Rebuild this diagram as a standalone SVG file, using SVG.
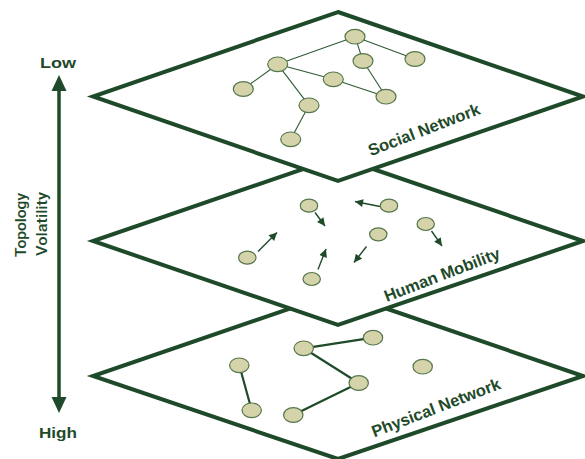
<svg xmlns="http://www.w3.org/2000/svg" width="585" height="459" viewBox="0 0 585 459">
<defs>
<style>
.plane{fill:#ffffff;stroke:#1f4a2a;stroke-width:4;stroke-linejoin:miter}
.nd{fill:#d4d3aa;stroke:#55764a;stroke-width:1.2}
.se{stroke:#2f5a35;stroke-width:1.1;fill:none}
.pe{stroke:#1f4a2a;stroke-width:2.2;fill:none}
.mv{stroke:#1f4a2a;stroke-width:1.4;fill:none;marker-end:url(#ah)}
.lbl{font-family:"Liberation Sans",Arial,sans-serif;font-weight:bold;font-size:16.5px;fill:#1f4a2a}
.ax{font-family:"Liberation Sans",Arial,sans-serif;font-weight:bold;font-size:15px;fill:#1f4a2a}
.axl{font-family:Roboto,"Liberation Sans",Arial,sans-serif;font-weight:500;font-size:15px;fill:#1f4a2a}
</style>
<marker id="ah" viewBox="0 0 10 10" refX="10" refY="5" markerWidth="9" markerHeight="8" markerUnits="userSpaceOnUse" orient="auto">
<path d="M0,0 L10,5 L0,10 z" fill="#1f4a2a"/>
</marker>
</defs>
<rect width="585" height="459" fill="#ffffff"/>

<g id="axis">
<line x1="59" y1="88" x2="59" y2="400" stroke="#1f4a2a" stroke-width="3.5"/>
<polygon points="59,75 51.5,91 66.5,91" fill="#1f4a2a"/>
<polygon points="59,413 51.5,397 66.5,397" fill="#1f4a2a"/>
<text class="ax" x="58" y="68" text-anchor="middle" textLength="36" lengthAdjust="spacingAndGlyphs">Low</text>
<text class="ax" x="58" y="438" text-anchor="middle" textLength="38" lengthAdjust="spacingAndGlyphs">High</text>
<text class="axl" transform="translate(26,225) rotate(-90)" text-anchor="middle" textLength="64" lengthAdjust="spacingAndGlyphs">Topology</text>
<text class="axl" transform="translate(46.5,224) rotate(-90)" text-anchor="middle" textLength="64" lengthAdjust="spacingAndGlyphs">Volatility</text>
</g>

<g id="physical-layer">
<polygon class="plane" points="338,292 583,376 338,459 93,376"/>
<text class="lbl" transform="translate(438,413) rotate(-21)" text-anchor="middle">Physical Network</text>
</g>

<g id="mobility-layer">
<polygon class="plane" points="338,157 583,241 338,325 93,241"/>
<text class="lbl" transform="translate(444,280) rotate(-21)" text-anchor="middle">Human Mobility</text>
</g>

<g id="social-layer">
<polygon class="plane" points="338,12 583,96.5 338,181 93,96.5"/>
<text class="lbl" transform="translate(426,135) rotate(-21)" text-anchor="middle">Social Network</text>
</g>

<g id="connectors">
<line class="se" x1="355" y1="36.7" x2="277.7" y2="64.3"/>
<line class="se" x1="355" y1="36.7" x2="415" y2="59"/>
<line class="se" x1="355" y1="36.7" x2="363" y2="61"/>
<line class="se" x1="363" y1="61" x2="386" y2="96.7"/>
<line class="se" x1="277.7" y1="64.3" x2="333.3" y2="79.3"/>
<line class="se" x1="333.3" y1="79.3" x2="386" y2="96.7"/>
<line class="se" x1="277.7" y1="64.3" x2="243.3" y2="89"/>
<line class="se" x1="277.7" y1="64.3" x2="309" y2="105.3"/>
<line class="se" x1="309" y1="105.3" x2="290.7" y2="139.3"/>

<line class="mv" x1="315" y1="212.5" x2="325" y2="226"/>
<line class="mv" x1="380" y1="206.5" x2="355" y2="201.5"/>
<line class="mv" x1="431.5" y1="231" x2="442" y2="246"/>
<line class="mv" x1="366.5" y1="246.5" x2="354" y2="262.5"/>
<line class="mv" x1="258" y1="251.5" x2="277" y2="232.5"/>
<line class="mv" x1="318" y1="269.5" x2="326" y2="249"/>

<line class="pe" x1="239.3" y1="365.3" x2="251.7" y2="410.3"/>
<line class="pe" x1="303.7" y1="348.3" x2="373" y2="337.7"/>
<line class="pe" x1="303.7" y1="348.3" x2="358.7" y2="383"/>
<line class="pe" x1="358.7" y1="383" x2="293.3" y2="415"/>
</g>

<g id="social-nodes">
<ellipse id="s1" class="nd" cx="355" cy="36.7" rx="10" ry="7.3"/>
<ellipse id="s2" class="nd" cx="415" cy="59" rx="10" ry="7.3"/>
<ellipse id="s3" class="nd" cx="363" cy="61" rx="10" ry="7.3"/>
<ellipse id="s4" class="nd" cx="277.7" cy="64.3" rx="10" ry="7.3"/>
<ellipse id="s5" class="nd" cx="333.3" cy="79.3" rx="10" ry="7.3"/>
<ellipse id="s6" class="nd" cx="243.3" cy="89" rx="10" ry="7.3"/>
<ellipse id="s7" class="nd" cx="386" cy="96.7" rx="10" ry="7.3"/>
<ellipse id="s8" class="nd" cx="309" cy="105.3" rx="10" ry="7.3"/>
<ellipse id="s9" class="nd" cx="290.7" cy="139.3" rx="10" ry="7.3"/>
</g>

<g id="mobility-nodes">
<ellipse id="m1" class="nd" cx="309" cy="205.7" rx="8.7" ry="6.5"/>
<ellipse id="m2" class="nd" cx="389" cy="205.7" rx="8.7" ry="6.5"/>
<ellipse id="m3" class="nd" cx="425.7" cy="224" rx="8.7" ry="6.5"/>
<ellipse id="m4" class="nd" cx="378.3" cy="234.3" rx="8.7" ry="6.5"/>
<ellipse id="m5" class="nd" cx="247.3" cy="257.7" rx="8.7" ry="6.5"/>
<ellipse id="m6" class="nd" cx="311.7" cy="279" rx="8.7" ry="6.5"/>
</g>

<g id="physical-nodes">
<ellipse id="p1" class="nd" cx="239.3" cy="365.3" rx="9.7" ry="7.3"/>
<ellipse id="p2" class="nd" cx="251.7" cy="410.3" rx="9.7" ry="7.3"/>
<ellipse id="p3" class="nd" cx="303.7" cy="348.3" rx="9.7" ry="7.3"/>
<ellipse id="p4" class="nd" cx="373" cy="337.7" rx="9.7" ry="7.3"/>
<ellipse id="p5" class="nd" cx="358.7" cy="383" rx="9.7" ry="7.3"/>
<ellipse id="p6" class="nd" cx="293.3" cy="415" rx="9.7" ry="7.3"/>
<ellipse id="p7" class="nd" cx="422.7" cy="366.7" rx="9.7" ry="7.3"/>
</g>
</svg>
